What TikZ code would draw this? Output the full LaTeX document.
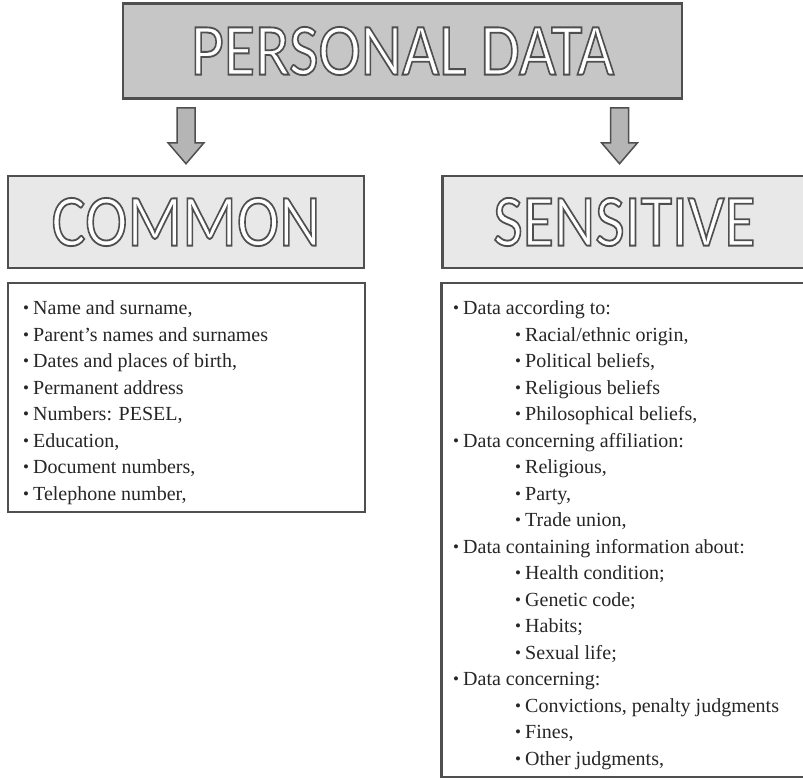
\documentclass[tikz,border=0pt]{standalone}
\usepackage{fontspec}
\setmainfont{Liberation Serif}
\newfontfamily\titlefont{Carlito}
\usepackage{graphicx}
\usetikzlibrary{positioning}
\definecolor{boxline}{HTML}{4F4F4F}
\definecolor{topfill}{HTML}{C6C6C6}
\definecolor{catfill}{HTML}{E8E8E8}
\definecolor{arrowfill}{HTML}{B5B5B5}
\newcommand{\outlined}[1]{\scalebox{1}[1.15]{\special{pdf:literal direct 2 Tr 1.6 w 1 g 0.31 G}#1\special{pdf:literal direct 0 Tr 0 g 0 G}}}
\newcommand{\itm}{\makebox[10pt][l]{\raisebox{1pt}{\fontsize{17}{17}\selectfont\textbullet}}}

\begin{document}
\begin{tikzpicture}[x=1pt, y=-1pt,
    title/.style={draw=boxline, line width=2.5pt, inner sep=0pt, font=\titlefont\fontsize{64}{64}\selectfont},
    listbox/.style={draw=boxline, line width=2.5pt, fill=white, inner sep=0pt},
    item/.style={anchor=base west, inner sep=0pt, text=black!85, font=\fontsize{20}{24}\selectfont},
    blockarrow/.style={draw=boxline, line width=1.5pt, fill=arrowfill, line join=miter}]
        \useasboundingbox (0,0) rectangle (803,780);
        % headings
        \node[title, fill=topfill, minimum width=559pt, minimum height=95pt] (personal) at (402.5,51) {\outlined{PERSONAL DATA}};
        \node[title, fill=catfill, minimum width=356pt, minimum height=92pt] (common) at (186,222) {\outlined{COMMON}};
        \node[title, fill=catfill, minimum width=364pt, minimum height=92pt] (sensitive) at (624.5,222) {\outlined{SENSITIVE}};
        % lists
        \node[listbox, minimum width=357pt, minimum height=229pt] (commonlist) at (186.5,397.5) {};
        \node[listbox, minimum width=365pt, minimum height=494pt] (sensitivelist) at (624,530) {};
        % arrows
        \foreach \n/\dx in {common/0,sensitive/-5}
        \draw[blockarrow] (personal.south -| \n.north) ++(\dx-9,8) -- ++(18,0) -- ++(0,35) -- ++(9,0)
            -- ++(-18,21) -- ++(-18,-21) -- ++(9,0) -- cycle;
        \foreach \t [count=\i from 0] in {{Name and surname,},%
            {Parent’s names and surnames},%
            {Dates and places of birth,},%
            {Permanent address},%
            {Numbers: PESEL,},%
            {Education,},%
            {Document numbers,},%
            {Telephone number,}}
        \node[item] (c\i) at (23,314.5+26.5*\i) {\itm\t};
        \foreach \lv/\t [count=\i from 0] in {0/{Data according to:},%
            1/{Racial/ethnic origin,},%
            1/{Political beliefs,},%
            1/{Religious beliefs},%
            1/{Philosophical beliefs,},%
            0/{Data concerning affiliation:},%
            1/{Religious,},%
            1/{Party,},%
            1/{Trade union,},%
            0/{Data containing information about:},%
            1/{Health condition;},%
            1/{Genetic code;},%
            1/{Habits;},%
            1/{Sexual life;},%
            0/{Data concerning:},%
            1/{Convictions, penalty judgments},%
            1/{Fines,},%
            1/{Other judgments,}}
        \node[item] (s\i) at (453+62*\lv,314.5+26.5*\i) {\itm\t};
\end{tikzpicture}
\end{document}
